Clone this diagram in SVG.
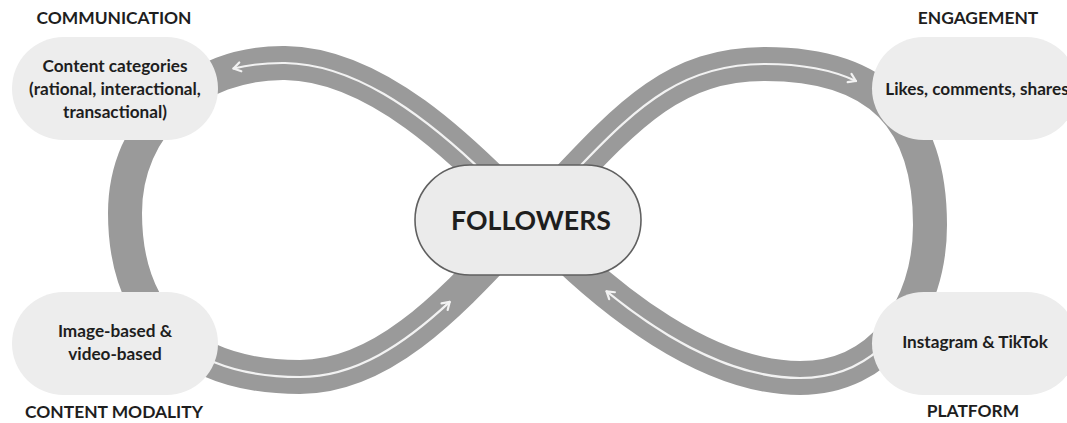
<svg xmlns="http://www.w3.org/2000/svg" width="1067" height="423" viewBox="0 0 1067 423">
<defs>
<style>
.band{fill:none;stroke:#9a9a9a;stroke-width:34;stroke-linejoin:round}
.flow{fill:none;stroke:#f2f2f2;stroke-width:2.2;stroke-linecap:round}
.node{fill:#ededed}
.center{fill:#ebebeb;stroke:#606060;stroke-width:1.6}
.t{font-family:Lato,"Liberation Sans",sans-serif;font-weight:bold;fill:#1e1e1e;text-anchor:middle}
.nt{font-size:17.2px}
.lab{font-size:17.4px}
.big{font-size:26.7px}
</style>
<marker id="arr" markerUnits="userSpaceOnUse" markerWidth="14" markerHeight="14" viewBox="-10 -7 14 14" refX="0" refY="0" orient="auto">
<path d="M-7,-4.5 L0,0 L-7,4.5" fill="none" stroke="#f2f2f2" stroke-width="2.2" stroke-linecap="round" stroke-linejoin="round"/>
</marker>
</defs>
<rect width="1067" height="423" fill="#ffffff"/>
<g id="connectors">
<path class="band" d="M530,219 C620,125 665,64 765,64 C880,64 930,120 930,225 C930,310 880,378 800,378 C710,378 610,305 530,219 C461,147 375,64 285,63 C195,62 125,125 125,213 C125,320 190,377 300,377 C390,377 461,291 530,219 Z"/>
<path class="flow" marker-end="url(#arr)" d="M475.3,164.6 C417.8,111 352.5,64 285,63 C267,62.8 249.8,64.6 233.5,68.5"/>
<path class="flow" marker-end="url(#arr)" d="M579.4,166.8 C640.2,103 685,64 765,64 C801.8,64 831.9,69.7 855.9,81"/>
<path class="flow" marker-end="url(#arr)" d="M213.7,361.9 C238.05,371.87 267,377 300,377 C355.8,377 404.6,343.9 449.7,301.9"/>
<path class="flow" marker-end="url(#arr)" d="M880.3,348.6 C859.2,367.1 832,378 800,378 C737,378 669.1,342.2 606.6,291.3"/>
</g>
<g id="communication">
<rect class="node" x="12" y="37" width="206" height="103" rx="51.5"/>
<text class="t lab" x="114" y="24">COMMUNICATION</text>
<text class="t nt" x="115" y="72">Content categories</text>
<text class="t nt" x="115" y="95">(rational, interactional,</text>
<text class="t nt" x="115" y="118">transactional)</text>
</g>
<g id="engagement">
<rect class="node" x="872" y="37" width="206" height="103" rx="51.5"/>
<text class="t lab" x="978" y="24">ENGAGEMENT</text>
<text class="t nt" x="977" y="95">Likes, comments, shares</text>
</g>
<g id="modality">
<rect class="node" x="12" y="292" width="206" height="103" rx="51.5"/>
<text class="t nt" x="115" y="337">Image-based &amp;</text>
<text class="t nt" x="115" y="360">video-based</text>
<text class="t lab" x="114" y="418">CONTENT MODALITY</text>
</g>
<g id="platform">
<rect class="node" x="872" y="292" width="206" height="103" rx="51.5"/>
<text class="t nt" x="975" y="348">Instagram &amp; TikTok</text>
<text class="t lab" x="973" y="417">PLATFORM</text>
</g>
<g id="followers">
<rect class="center" x="415" y="165" width="226" height="110" rx="55"/>
<text class="t big" x="531" y="230">FOLLOWERS</text>
</g>
</svg>
